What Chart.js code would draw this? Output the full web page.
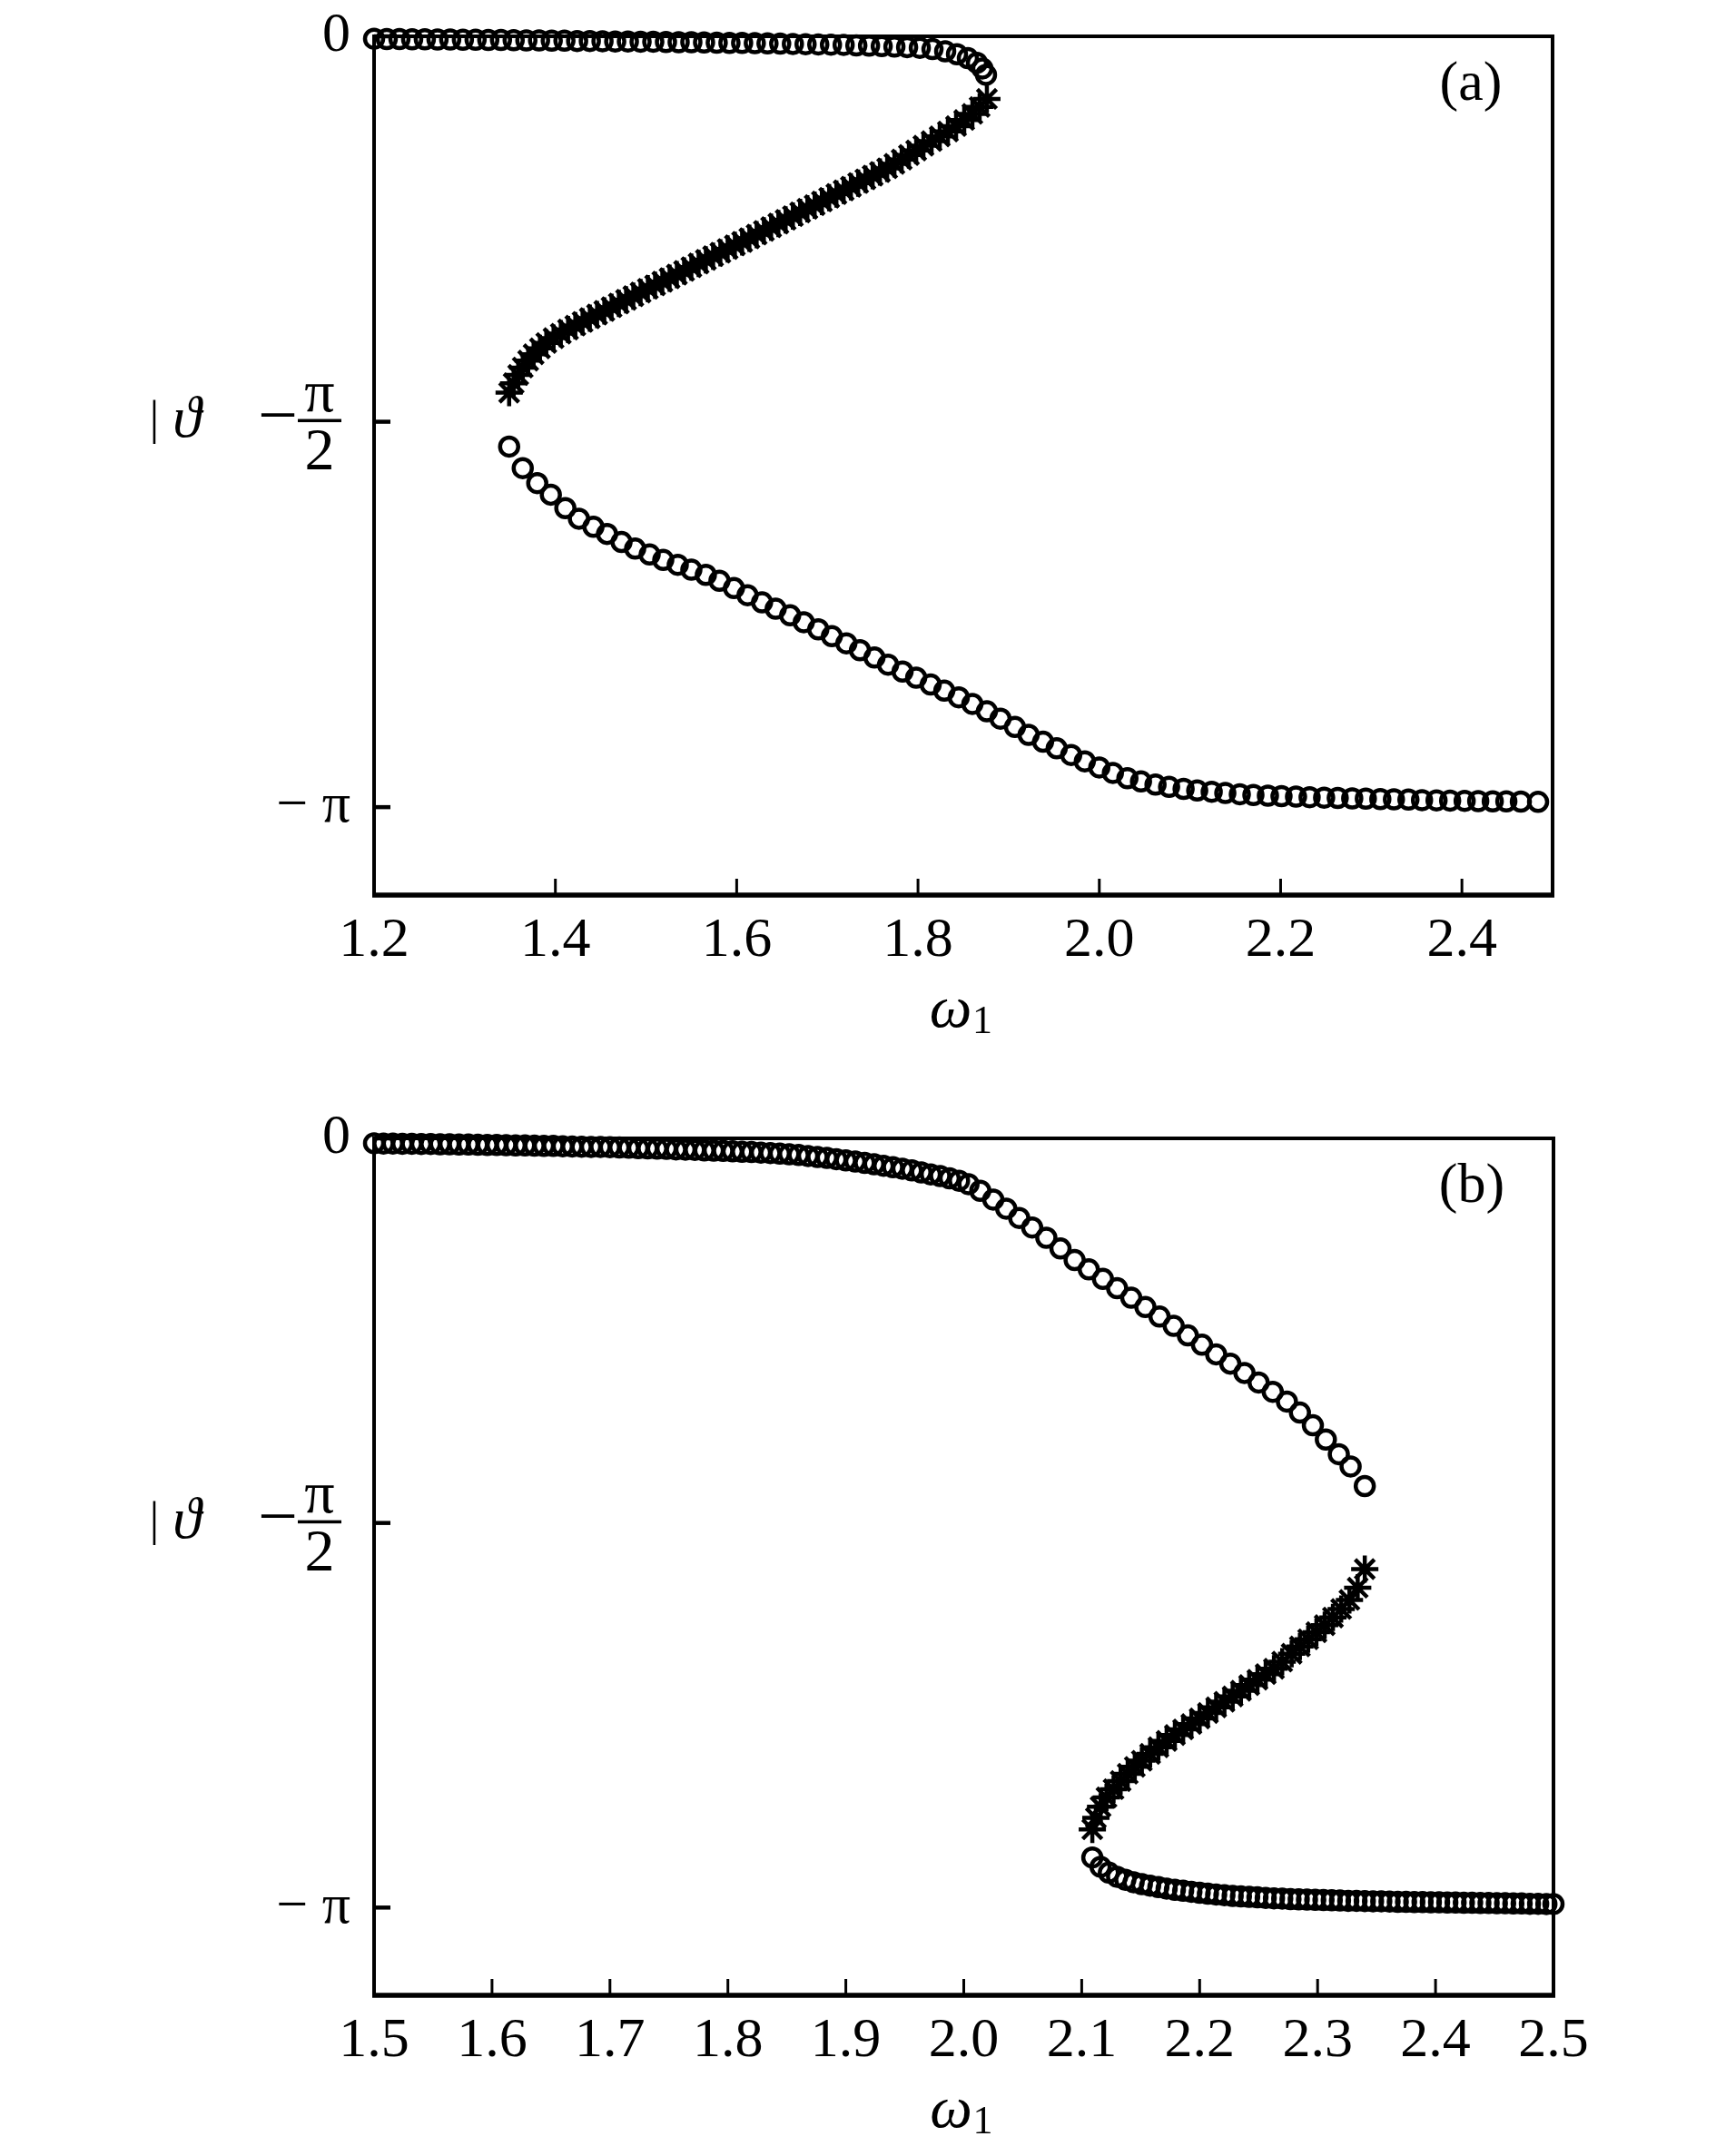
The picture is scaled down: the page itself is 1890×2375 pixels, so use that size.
<!DOCTYPE html>
<html>
<head>
<meta charset="utf-8">
<script src="https://cdn.jsdelivr.net/npm/chart.js@4.4.1/dist/chart.umd.min.js"></script>
<style>
    html, body { margin: 0; padding: 0; background: #fff; }
    #wrap { position: relative; width: 1890px; height: 2375px; }
    canvas { position: absolute; left: 0; }
</style>
</head>
<body>
<div id="wrap">
    <canvas id="chart-a" width="1890" height="1190" style="top:0px"></canvas>
    <canvas id="chart-b" width="1890" height="1185" style="top:1190px"></canvas>
</div>
<script>
// 눈금 (tick) 값과 라벨
const xTicksA = [1.2, 1.4, 1.6, 1.8, 2.0, 2.2, 2.4];
const xTicksB = [1.5, 1.6, 1.7, 1.8, 1.9, 2.0, 2.1, 2.2, 2.3, 2.4, 2.5];
const yTickValues = [0, -Math.PI / 2, -Math.PI];
const yTickLabels = ['0', '−π/2', '−π'];

// (a) 위쪽 가지 (원) [omega1, theta]
const branchAUpper = [
    [1.200,-0.010],[1.214,-0.011],[1.228,-0.011],[1.242,-0.012],[1.256,-0.012],[1.270,-0.013],[1.284,-0.013],
    [1.298,-0.014],[1.312,-0.014],[1.326,-0.015],[1.340,-0.015],[1.354,-0.016],[1.368,-0.017],[1.382,-0.017],
    [1.396,-0.018],[1.410,-0.018],[1.424,-0.019],[1.438,-0.019],[1.452,-0.020],[1.466,-0.021],[1.480,-0.021],
    [1.494,-0.022],[1.508,-0.022],[1.522,-0.023],[1.536,-0.024],[1.550,-0.024],[1.564,-0.025],[1.578,-0.026],
    [1.592,-0.027],[1.606,-0.027],[1.620,-0.028],[1.634,-0.029],[1.648,-0.030],[1.662,-0.031],[1.676,-0.032],
    [1.690,-0.033],[1.704,-0.034],[1.718,-0.035],[1.732,-0.037],[1.746,-0.038],[1.760,-0.040],[1.774,-0.042],
    [1.788,-0.044],[1.802,-0.047],[1.816,-0.052],[1.830,-0.061],[1.843,-0.073],[1.855,-0.089],[1.865,-0.108],
    [1.871,-0.131],[1.875,-0.157]
];

// (a) 가운데 가지 (별)
const branchAMiddle = [
    [1.876,-0.255],[1.868,-0.288],[1.860,-0.316],[1.851,-0.341],[1.842,-0.366],[1.833,-0.388],[1.824,-0.408],
    [1.815,-0.427],[1.806,-0.446],[1.798,-0.465],[1.790,-0.484],[1.782,-0.502],[1.774,-0.520],[1.766,-0.538],
    [1.758,-0.553],[1.750,-0.568],[1.742,-0.583],[1.734,-0.598],[1.726,-0.613],[1.718,-0.628],[1.710,-0.643],
    [1.702,-0.658],[1.694,-0.673],[1.686,-0.688],[1.678,-0.703],[1.670,-0.718],[1.662,-0.733],[1.654,-0.748],
    [1.646,-0.763],[1.638,-0.778],[1.630,-0.793],[1.622,-0.808],[1.614,-0.823],[1.606,-0.838],[1.598,-0.852],
    [1.590,-0.867],[1.582,-0.882],[1.574,-0.896],[1.566,-0.911],[1.558,-0.926],[1.550,-0.941],[1.542,-0.956],
    [1.534,-0.971],[1.526,-0.986],[1.518,-1.000],[1.510,-1.015],[1.502,-1.029],[1.494,-1.044],[1.486,-1.059],
    [1.478,-1.074],[1.470,-1.089],[1.462,-1.104],[1.454,-1.119],[1.446,-1.134],[1.438,-1.149],[1.430,-1.164],
    [1.422,-1.179],[1.414,-1.195],[1.406,-1.212],[1.398,-1.230],[1.390,-1.250],[1.383,-1.272],[1.376,-1.296],
    [1.370,-1.322],[1.364,-1.350],[1.359,-1.380],[1.354,-1.414],[1.349,-1.452]
];

// (a) 아래쪽 가지 (원)
const branchALower = [
    [1.349,-1.672],[1.364,-1.760],[1.380,-1.821],[1.395,-1.868],[1.411,-1.923],[1.426,-1.966],[1.442,-1.999],
    [1.457,-2.028],[1.473,-2.061],[1.488,-2.088],[1.504,-2.112],[1.519,-2.134],[1.535,-2.154],[1.550,-2.174],
    [1.566,-2.195],[1.581,-2.219],[1.597,-2.249],[1.612,-2.278],[1.628,-2.307],[1.643,-2.333],[1.659,-2.360],
    [1.674,-2.388],[1.690,-2.417],[1.705,-2.445],[1.721,-2.474],[1.736,-2.502],[1.752,-2.532],[1.767,-2.561],
    [1.783,-2.589],[1.798,-2.614],[1.814,-2.642],[1.829,-2.667],[1.845,-2.694],[1.860,-2.721],[1.876,-2.751],
    [1.891,-2.781],[1.907,-2.815],[1.922,-2.847],[1.938,-2.875],[1.953,-2.902],[1.969,-2.929],[1.984,-2.955],
    [2.000,-2.980],[2.015,-3.002],[2.031,-3.024],[2.046,-3.037],[2.062,-3.050],[2.077,-3.059],[2.093,-3.067],
    [2.108,-3.074],[2.124,-3.079],[2.139,-3.084],[2.155,-3.089],[2.170,-3.092],[2.186,-3.095],[2.201,-3.097],
    [2.217,-3.099],[2.232,-3.101],[2.248,-3.103],[2.263,-3.104],[2.279,-3.106],[2.294,-3.107],[2.310,-3.109],
    [2.325,-3.110],[2.341,-3.111],[2.356,-3.113],[2.372,-3.114],[2.387,-3.115],[2.403,-3.116],[2.418,-3.117],
    [2.434,-3.118],[2.449,-3.118],[2.465,-3.119],[2.484,-3.120]
];

// (b) 위쪽 가지 (원)
const branchBUpper = [
    [1.500,-0.020],[1.508,-0.021],[1.516,-0.021],[1.524,-0.022],[1.532,-0.022],[1.540,-0.023],[1.548,-0.023],
    [1.556,-0.024],[1.564,-0.024],[1.572,-0.025],[1.580,-0.025],[1.588,-0.026],[1.596,-0.027],[1.604,-0.027],
    [1.612,-0.028],[1.620,-0.029],[1.628,-0.029],[1.636,-0.030],[1.644,-0.031],[1.652,-0.031],[1.660,-0.032],
    [1.668,-0.033],[1.676,-0.034],[1.684,-0.035],[1.692,-0.035],[1.700,-0.036],[1.708,-0.037],[1.716,-0.038],
    [1.724,-0.040],[1.732,-0.041],[1.740,-0.042],[1.748,-0.043],[1.756,-0.045],[1.764,-0.046],[1.772,-0.047],
    [1.780,-0.049],[1.788,-0.050],[1.796,-0.051],[1.804,-0.053],[1.812,-0.055],[1.820,-0.056],[1.828,-0.058],
    [1.836,-0.060],[1.844,-0.062],[1.852,-0.065],[1.860,-0.068],[1.868,-0.072],[1.876,-0.076],[1.884,-0.080],
    [1.892,-0.085],[1.900,-0.090],[1.908,-0.095],[1.916,-0.100],[1.924,-0.106],[1.932,-0.112],[1.940,-0.118],
    [1.948,-0.124],[1.956,-0.131],[1.964,-0.139],[1.972,-0.147],[1.980,-0.154],[1.988,-0.163],[1.996,-0.173],
    [2.004,-0.187],[2.014,-0.214],[2.025,-0.250],[2.036,-0.287],[2.047,-0.325],[2.058,-0.364],[2.070,-0.406],
    [2.082,-0.450],[2.094,-0.497],[2.106,-0.535],[2.118,-0.574],[2.130,-0.612],[2.142,-0.651],[2.154,-0.689],
    [2.166,-0.728],[2.178,-0.766],[2.190,-0.805],[2.202,-0.843],[2.214,-0.882],[2.226,-0.920],[2.238,-0.958],
    [2.250,-0.997],[2.262,-1.035],[2.274,-1.075],[2.285,-1.120],[2.296,-1.172],[2.307,-1.230],[2.318,-1.290],
    [2.328,-1.340],[2.340,-1.420]
];

// (b) 가운데 가지 (별)
const branchBMiddle = [
    [2.340,-1.759],[2.334,-1.835],[2.327,-1.885],[2.320,-1.922],[2.313,-1.957],[2.306,-1.988],[2.299,-2.017],
    [2.292,-2.046],[2.285,-2.075],[2.278,-2.105],[2.270,-2.137],[2.263,-2.166],[2.256,-2.188],[2.249,-2.211],
    [2.242,-2.233],[2.235,-2.256],[2.228,-2.279],[2.221,-2.301],[2.214,-2.324],[2.207,-2.347],[2.200,-2.369],
    [2.193,-2.392],[2.186,-2.414],[2.179,-2.437],[2.172,-2.461],[2.165,-2.487],[2.158,-2.514],[2.151,-2.542],
    [2.145,-2.567],[2.139,-2.595],[2.133,-2.625],[2.127,-2.658],[2.121,-2.692],[2.116,-2.730],[2.112,-2.775],
    [2.109,-2.822]
];

// (b) 아래쪽 가지 (원)
const branchBLower = [
    [2.109,-2.937],[2.116,-2.975],[2.123,-2.999],[2.130,-3.016],[2.137,-3.028],[2.144,-3.038],[2.151,-3.046],
    [2.158,-3.052],[2.165,-3.058],[2.172,-3.064],[2.179,-3.069],[2.186,-3.073],[2.193,-3.077],[2.200,-3.081],
    [2.207,-3.085],[2.214,-3.088],[2.221,-3.091],[2.228,-3.094],[2.235,-3.096],[2.242,-3.098],[2.249,-3.100],
    [2.256,-3.102],[2.263,-3.104],[2.270,-3.105],[2.277,-3.107],[2.284,-3.108],[2.291,-3.109],[2.298,-3.110],
    [2.305,-3.111],[2.312,-3.112],[2.319,-3.113],[2.326,-3.114],[2.333,-3.114],[2.340,-3.115],[2.347,-3.116],
    [2.354,-3.116],[2.361,-3.117],[2.368,-3.118],[2.375,-3.118],[2.382,-3.119],[2.389,-3.119],[2.396,-3.120],
    [2.403,-3.120],[2.410,-3.121],[2.417,-3.121],[2.424,-3.122],[2.431,-3.122],[2.438,-3.123],[2.445,-3.123],
    [2.452,-3.124],[2.459,-3.124],[2.466,-3.125],[2.473,-3.125],[2.480,-3.126],[2.487,-3.126],[2.494,-3.127],
    [2.500,-3.127]
];

const FONT = '"Liberation Serif", "DejaVu Serif", serif';
const LABEL_SIZE = 62;

function toPoints(pairs) {
    return pairs.map(([x, y]) => ({ x, y }));
}

function circleSet(pairs) {
    return {
        data: toPoints(pairs), pointStyle: 'circle', pointRadius: 10, pointBorderWidth: 4.5,
        pointBorderColor: '#000', pointBackgroundColor: 'rgba(0,0,0,0)', showLine: false, clip: false
    };
}

function starSet(pairs) {
    return {
        data: toPoints(pairs), pointStyle: 'star', pointRadius: 15, pointBorderWidth: 4.5,
        pointBorderColor: '#000', pointBackgroundColor: '#000', showLine: false, clip: false
    };
}

function line(ctx, x1, y1, x2, y2) {
    ctx.beginPath();
    ctx.moveTo(x1, y1);
    ctx.lineTo(x2, y2);
    ctx.stroke();
}

// 축 라벨이 차트 영역을 밀어내지 않도록
function noScalePadding(scale) {
    scale.paddingTop = 0;
    scale.paddingBottom = 0;
    scale.paddingLeft = 0;
    scale.paddingRight = 0;
}

// 테두리, 안쪽 눈금, 분수 라벨, 축 제목
const framePlugin = {
    id: 'frame',
    beforeDatasetsDraw(chart) {
        let { ctx, chartArea: a } = chart;
        let xs = chart.scales.x, ys = chart.scales.y;
        ctx.save();
        ctx.strokeStyle = '#000';
        ctx.lineWidth = 4;
        ctx.strokeRect(a.left, a.top, a.right - a.left, a.bottom - a.top);
        ctx.lineWidth = 5.5;
        line(ctx, a.left - 2, a.bottom, a.right + 2, a.bottom);
        ctx.lineWidth = 3;
        xs.ticks.forEach(t => {
            let px = xs.getPixelForValue(t.value);
            line(ctx, px, a.bottom, px, a.bottom - 18);
        });
        ctx.lineWidth = 4.5;
        ys.ticks.forEach(t => {
            let py = ys.getPixelForValue(t.value);
            line(ctx, a.left, py, a.left + 18, py);
        });
        ctx.restore();
    },
    afterDraw(chart, args, opts) {
        let { ctx, chartArea: a } = chart;
        let ys = chart.scales.y;
        ctx.save();
        ctx.fillStyle = '#000';

        // -π/2 같은 분수 라벨
        yTickValues.forEach((v, i) => {
            let label = yTickLabels[i];
            if (!label.includes('/')) return;
            let [num, den] = label.replace('−', '').split('/');
            let py = ys.getPixelForValue(v);
            let cx = a.left - 60;
            ctx.font = '66px ' + FONT;
            ctx.textBaseline = 'alphabetic';
            ctx.textAlign = 'center';
            ctx.fillText(num, cx, py - 12);
            ctx.fillText(den, cx, py + 52);
            ctx.fillRect(cx - 24, py - 3, 48, 3.5);
            ctx.font = '78px ' + FONT;
            ctx.textAlign = 'right';
            ctx.fillText('−', cx - 24, py + 18);
        });

        // y축 제목
        let midY = ys.getPixelForValue(-Math.PI / 2);
        ctx.textBaseline = 'middle';
        ctx.textAlign = 'center';
        ctx.font = '52px ' + FONT;
        ctx.fillText('|', a.left - 242, midY);
        ctx.font = 'italic 64px ' + FONT;
        ctx.fillText('ϑ', a.left - 206, midY);

        // x축 제목 ω1
        ctx.textBaseline = 'alphabetic';
        ctx.font = 'italic 66px ' + FONT;
        ctx.fillText('ω', (a.left + a.right) / 2 - 14, a.bottom + 145);
        ctx.font = '44px ' + FONT;
        ctx.textAlign = 'left';
        ctx.fillText('1', (a.left + a.right) / 2 + 10, a.bottom + 152);

        // 패널 태그
        ctx.textAlign = 'center';
        ctx.textBaseline = 'middle';
        ctx.font = '62px ' + FONT;
        ctx.fillText(opts.tag, a.right - 90, a.top + 54);
        ctx.restore();
    }
};

function createPanel(canvasId, xMin, xMax, xTicks, datasets, tag, padTop, padRight, plotBottom) {
    let canvas = document.getElementById(canvasId);
    return new Chart(canvas, {
        type: 'scatter',
        data: { datasets },
        options: {
            responsive: false,
            animation: false,
            devicePixelRatio: 1,
            events: [],
            layout: { padding: { top: padTop, right: padRight, left: 0, bottom: 0 } },
            scales: {
                x: {
                    type: 'linear', min: xMin, max: xMax,
                    afterBuildTicks: (scale) => { scale.ticks = xTicks.map(v => ({ value: v })); },
                    afterFit: (scale) => {
                        scale.height = canvas.height - plotBottom;
                        noScalePadding(scale);
                    },
                    grid: { display: false, drawTicks: false },
                    border: { display: false },
                    ticks: {
                        autoSkip: false, maxRotation: 0, padding: 14, color: '#000',
                        font: { family: FONT, size: LABEL_SIZE },
                        callback: (value) => Number(value).toFixed(1)
                    }
                },
                y: {
                    type: 'linear', min: -3.5, max: 0,
                    afterBuildTicks: (scale) => { scale.ticks = yTickValues.map(v => ({ value: v })); },
                    afterFit: (scale) => {
                        scale.width = 412;
                        noScalePadding(scale);
                    },
                    grid: { display: false, drawTicks: false },
                    border: { display: false },
                    ticks: {
                        autoSkip: false, padding: 26, color: '#000',
                        font: { family: FONT, size: LABEL_SIZE },
                        callback: (value) => {
                            let i = yTickValues.findIndex(v => Math.abs(v - value) < 1e-6);
                            let label = i >= 0 ? yTickLabels[i] : '';
                            return label.includes('/') ? '' : label.replace('−', '− ');
                        }
                    }
                }
            },
            plugins: {
                legend: { display: false },
                tooltip: { enabled: false },
                frame: { tag }
            }
        },
        plugins: [framePlugin]
    });
}

createPanel('chart-a', 1.2, 2.5, xTicksA,
    [circleSet(branchAUpper), starSet(branchAMiddle), circleSet(branchALower)],
    '(a)', 40, 180, 986);

createPanel('chart-b', 1.5, 2.5, xTicksB,
    [circleSet(branchBUpper), starSet(branchBMiddle), circleSet(branchBLower)],
    '(b)', 64, 179, 1008);
</script>
</body>
</html>
